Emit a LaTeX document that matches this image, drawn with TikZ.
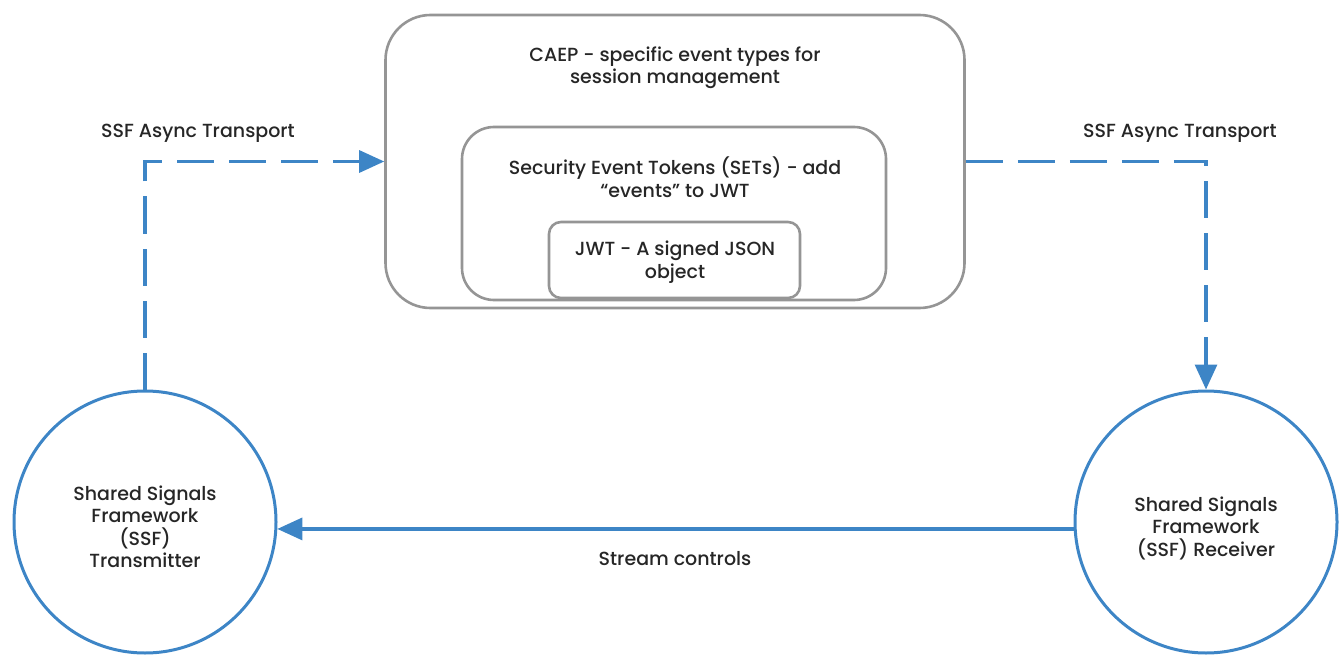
\documentclass[tikz,border=0pt]{standalone}
\usepackage{fontspec}
\setmainfont{Poppins}[UprightFont={* Medium}]
\usetikzlibrary{arrows.meta}
\definecolor{lineblue}{HTML}{3D85C6}
\definecolor{boxgray}{HTML}{959595}
\definecolor{txt}{HTML}{262626}
\tikzset{
  box/.style={draw=boxgray, line width=2.6pt, fill=white},
  lbl/.style={text=txt, font=\fontsize{19}{22.5}\selectfont, align=center, inner sep=0pt},
  sig/.style={draw=lineblue, line width=3pt, circle, minimum size=262pt, inner sep=0pt},
  flow/.style={draw=lineblue, line width=3.2pt, -{Triangle[length=25pt,width=22pt]}},
  dflow/.style={flow, dash pattern=on 37pt off 15pt},
}
\begin{document}
\begin{tikzpicture}[x=1pt,y=-1pt]
\useasboundingbox (0,0) rectangle (1341,655);
\node[box, rounded corners=45pt, minimum width=579pt, minimum height=293pt] (caep) at (675,161.5) {};
\node[box, rounded corners=32pt, minimum width=424pt, minimum height=173pt] (sets) at (674,213.5) {};
\node[box, rounded corners=12pt, minimum width=251pt, minimum height=76pt] (jwt) at (674.5,260) {};
\node[lbl] (caeptext) at (675,68) {CAEP - specific event types for\\session management};
\node[lbl] (setstext) at (675,177) {Security Event Tokens (SETs) - add\\“events” to JWT};
\node[lbl] (jwttext) at (675,262) {JWT - A signed JSON\\object};
\node[sig] (tx) at (145,522) {};
\node[sig] (rx) at (1206,522) {};
\node[lbl] (txtext) at (145,527) {Shared Signals\\Framework\\(SSF)\\Transmitter};
\node[lbl] (rxtext) at (1206,528) {Shared Signals\\Framework\\(SSF) Receiver};
\node[lbl] (asyncl) at (198,133) {SSF Async Transport};
\node[lbl] (asyncr) at (1180,133) {SSF Async Transport};
\node[lbl] (streamlbl) at (675,559) {Stream controls};
\draw[dflow] (tx.north) |- (caep.west);
\draw[dflow] (caep.east) -| (rx.north);
\draw[flow] (rx.183) -- (tx.-3);
\end{tikzpicture}
\end{document}
